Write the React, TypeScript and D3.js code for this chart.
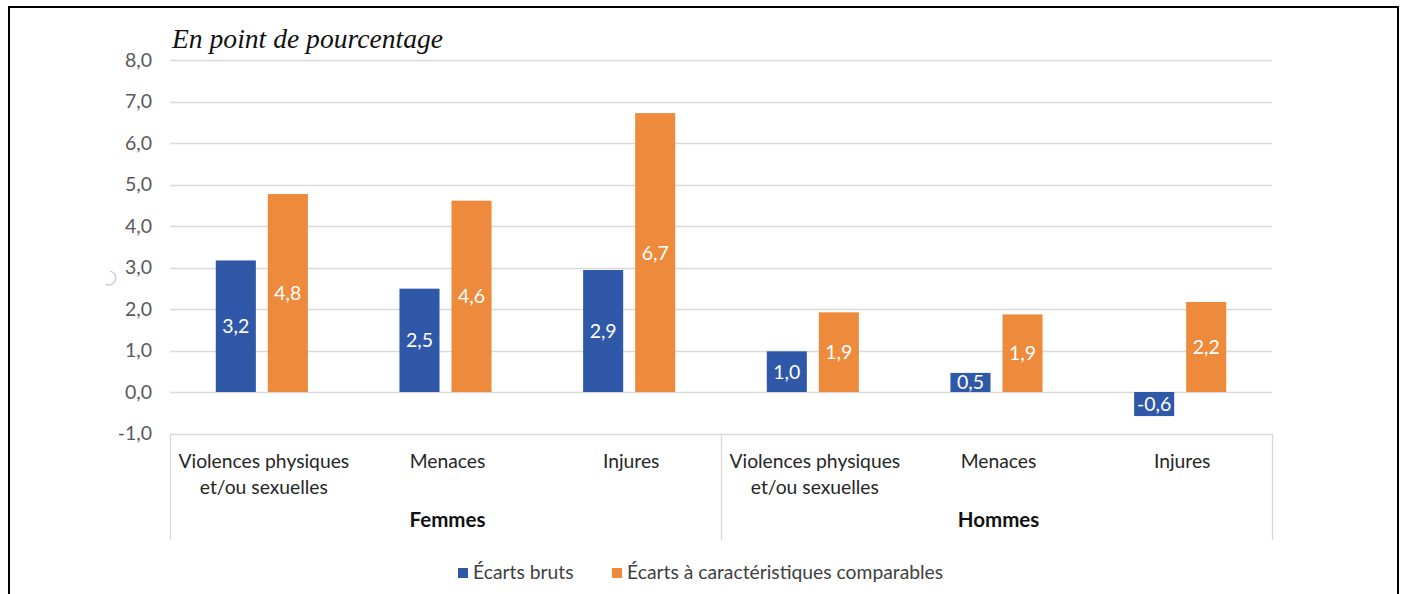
import React from "react";
import * as d3 from "d3";

const categoryLabels = [
  ["Violences physiques", "et/ou sexuelles"],
  ["Menaces"],
  ["Injures"],
  ["Violences physiques", "et/ou sexuelles"],
  ["Menaces"],
  ["Injures"],
];
const groupLabels = ["Femmes", "Hommes"];
const seriesNames = ["Écarts bruts", "Écarts à caractéristiques comparables"];
const ecartsBruts = [3.17, 2.49, 2.94, 0.98, 0.46, -0.58];
const ecartsComparables = [4.77, 4.61, 6.72, 1.92, 1.87, 2.17];
const yTickValues = [-1, 0, 1, 2, 3, 4, 5, 6, 7, 8];
const title = "En point de pourcentage";

const W = 1408;
const H = 594;
const COLORS = ["#3058a8", "#ee8a3c"];
const FONT = "Lato, 'Open Sans', sans-serif";

const locale = d3.formatLocale({
  decimal: ",",
  thousands: " ",
  grouping: [3],
  currency: ["", "€"],
  minus: "-",
});
const fmt = locale.format(".1f");

export default function App() {
  const plotLeft = 170;
  const plotRight = 1272;
  const y = d3.scaleLinear().domain([-1, 8]).range([433.5, 60]);
  const idx = categoryLabels.map((_, i) => String(i));
  const x = d3.scaleBand<string>().domain(idx).range([plotLeft, plotRight]).paddingInner(0).paddingOuter(0);
  const xs = d3
    .scaleBand<string>()
    .domain(["0", "1"])
    .range([0, x.bandwidth()])
    .paddingInner(0.23)
    .paddingOuter(0.88);
  const series = [ecartsBruts, ecartsComparables];
  const groupBoundaries = [plotLeft, (x("3") as number), plotRight];
  const axisBottom = 540;
  const arcPath = d3.arc()({ innerRadius: 6.2, outerRadius: 7.6, startAngle: 0.15, endAngle: Math.PI * 1.15 }) as string;

  return (
    <div style={{ position: "absolute", left: 0, top: 0 }}>
      <svg width={W} height={H} style={{ display: "block", background: "#fff" }}>
        <rect x={0} y={0} width={W} height={H} fill="#fff" />
        {/* frame */}
        <rect x={9} y={7} width={1389} height={620} fill="none" stroke="#000" strokeWidth={2} />

        {/* title */}
        <text x={172} y={48} fontFamily="'Liberation Serif', serif" fontStyle="italic" fontSize={27.6} fill="#111">
          {title}
        </text>

        {/* gridlines */}
        {yTickValues.map((t) => (
          <line key={t} x1={plotLeft} x2={plotRight} y1={Math.round(y(t)) + 0.5} y2={Math.round(y(t)) + 0.5} stroke="#d9d9d9" strokeWidth={1.3} />
        ))}
        {/* tick labels */}
        {yTickValues.map((t) => (
          <text key={"l" + t} x={152} y={y(t)} dy="0.35em" textAnchor="end" fontFamily={FONT} fontSize={19.5} fill="#595959">
            {fmt(t)}
          </text>
        ))}

        {/* category axis boxes */}
        {groupBoundaries.map((bx, i) => (
          <line key={"v" + i} x1={Math.round(bx) + 0.5} x2={Math.round(bx) + 0.5} y1={y(-1)} y2={axisBottom} stroke="#d9d9d9" strokeWidth={1.3} />
        ))}

        {/* bars */}
        {series.map((vals, s) =>
          vals.map((v, i) => {
            const bx = (x(String(i)) as number) + (xs(String(s)) as number);
            const y0 = y(0);
            const yv = y(v);
            return (
              <rect key={`b${s}-${i}`} x={bx} y={Math.min(y0, yv)} width={xs.bandwidth()} height={Math.abs(yv - y0)} fill={COLORS[s]} />
            );
          })
        )}
        {/* data labels */}
        {series.map((vals, s) =>
          vals.map((v, i) => {
            const cx = (x(String(i)) as number) + (xs(String(s)) as number) + xs.bandwidth() / 2;
            const cy = (y(0) + y(v)) / 2;
            return (
              <text key={`t${s}-${i}`} x={cx} y={cy} dy="0.36em" textAnchor="middle" fontFamily={FONT} fontSize={19.5} fill="#fff">
                {fmt(v)}
              </text>
            );
          })
        )}

        {/* category labels */}
        {categoryLabels.map((lines, i) => {
          const cx = (x(String(i)) as number) + x.bandwidth() / 2 + 2;
          return (
            <text key={"c" + i} textAnchor="middle" fontFamily={FONT} fontSize={19.3} fill="#262626">
              {lines.map((ln, j) => (
                <tspan key={j} x={cx} y={468 + j * 26}>
                  {ln}
                </tspan>
              ))}
            </text>
          );
        })}
        {groupLabels.map((g, i) => (
          <text
            key={"g" + i}
            x={(groupBoundaries[i] + groupBoundaries[i + 1]) / 2 + 2}
            y={527}
            textAnchor="middle"
            fontFamily={FONT}
            fontWeight="bold"
            fontSize={20.5}
            fill="#111"
          >
            {g}
          </text>
        ))}

        {/* small artifact arc */}
        <path d={arcPath} transform="translate(109,278)" fill="#c5cad8" />

        {/* legend */}
        {seriesNames.map((n, s) => {
          const lx = s === 0 ? 458 : 612;
          return (
            <g key={"lg" + s}>
              <rect x={lx} y={568} width={10} height={10} fill={COLORS[s]} />
              <text x={lx + 15} y={579} fontFamily={FONT} fontSize={19.3} fill="#404040">
                {n}
              </text>
            </g>
          );
        })}
      </svg>
    </div>
  );
}
